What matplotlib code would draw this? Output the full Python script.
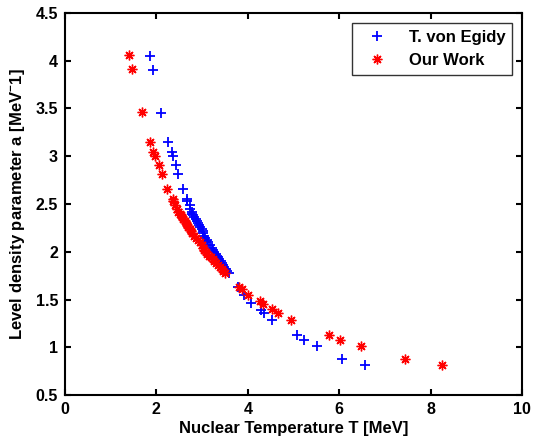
import numpy as np
import matplotlib.pyplot as plt

plt.rcParams['font.family'] = ['Liberation Sans', 'DejaVu Sans']
plt.rcParams['mathtext.fontset'] = 'custom'
plt.rcParams['mathtext.rm'] = 'Liberation Sans:bold'
plt.rcParams['mathtext.default'] = 'rm'

# =========================
# data
# =========================
a_egidy = [4.05, 3.90, 3.45, 3.15, 3.04, 3.00, 2.91, 2.81, 2.66, 2.55, 2.53, 2.49,
           2.45, 2.42, 2.40, 2.38, 2.36, 2.34, 2.32, 2.30, 2.28, 2.26, 2.24, 2.22,
           2.20, 2.17, 2.14, 2.12, 2.10, 2.07, 2.04, 2.02, 2.00, 1.98, 1.96, 1.94,
           1.92, 1.90, 1.88, 1.86, 1.84, 1.82, 1.80, 1.78,
           1.63, 1.55, 1.46, 1.39, 1.36, 1.29, 1.13, 1.08, 1.01, 0.88, 0.81]
T_egidy = [1.85, 1.92, 2.10, 2.26, 2.35, 2.37, 2.42, 2.48, 2.59, 2.68, 2.68, 2.74,
           2.74, 2.77, 2.79, 2.81, 2.83, 2.86, 2.88, 2.91, 2.93, 2.96, 2.99, 3.01,
           3.03, 3.05, 3.07, 3.11, 3.14, 3.17, 3.21, 3.24, 3.27, 3.30, 3.33, 3.35,
           3.38, 3.41, 3.44, 3.46, 3.49, 3.52, 3.55, 3.58,
           3.79, 3.92, 4.08, 4.29, 4.36, 4.54, 5.07, 5.23, 5.51, 6.07, 6.56]

a_ours = [4.06, 3.91, 3.46, 3.15, 3.04, 3.00, 2.91, 2.81, 2.66, 2.55, 2.53, 2.49,
          2.45, 2.42, 2.40, 2.38, 2.36, 2.34, 2.32, 2.30, 2.28, 2.26, 2.24, 2.22,
          2.20, 2.17, 2.14, 2.12, 2.10, 2.07, 2.04, 2.02, 2.00, 1.98, 1.96, 1.94,
          1.92, 1.90, 1.88, 1.86, 1.84, 1.82, 1.80, 1.78,
          1.63, 1.61, 1.55, 1.48, 1.45, 1.40, 1.36, 1.29, 1.13, 1.08, 1.01, 0.88, 0.81]
T_ours = [1.41, 1.46, 1.68, 1.85, 1.93, 1.97, 2.05, 2.12, 2.24, 2.36, 2.36, 2.41,
          2.45, 2.48, 2.51, 2.54, 2.56, 2.59, 2.62, 2.64, 2.67, 2.70, 2.73, 2.75,
          2.78, 2.82, 2.87, 2.91, 2.95, 2.99, 3.02, 3.05, 3.08, 3.11, 3.15, 3.19,
          3.23, 3.27, 3.31, 3.35, 3.39, 3.43, 3.46, 3.50,
          3.81, 3.87, 4.01, 4.27, 4.34, 4.54, 4.67, 4.95, 5.78, 6.02, 6.47, 7.45, 8.26]

x_ticks = [0, 2, 4, 6, 8, 10]
y_ticks = [0.5, 1, 1.5, 2, 2.5, 3, 3.5, 4, 4.5]


# =========================
# plot
# =========================
fig = plt.figure(figsize=(5.34, 4.47), dpi=100)
ax = fig.add_axes([0.1217, 0.1163, 0.8558, 0.8547])

ax.plot(T_egidy, a_egidy, linestyle='none', marker='+', color='#0000ff',
        markersize=7, markeredgewidth=1.3, label='T. von Egidy')
ax.plot(T_ours, a_ours, linestyle='none', marker=(8, 2, 0), color='#ff0000',
        markersize=7, markeredgewidth=1.0, label='Our Work')

ax.set_xlim(0, 10)
ax.set_ylim(0.5, 4.5)
ax.set_xticks(x_ticks)
ax.set_yticks(y_ticks)
ax.set_xticklabels([str(t) for t in x_ticks], fontweight='bold')
ax.set_yticklabels(['%g' % t for t in y_ticks], fontweight='bold')
ax.tick_params(direction='in', top=True, right=True, labelsize=11.5,
               width=1.5, length=4, pad=5)
for s in ax.spines.values():
    s.set_linewidth(1.5)

ax.set_xlabel('Nuclear Temperature T [MeV]', fontsize=12, fontweight='bold',
              labelpad=3)
ax.set_ylabel('Level density parameter a [MeV$^{-}$1]', fontsize=12,
              fontweight='bold', labelpad=6)

leg = ax.legend(loc='upper right', fontsize=12, frameon=True, fancybox=False,
                edgecolor='black', borderaxespad=0.6, handlelength=2.2,
                handletextpad=0.8, borderpad=0.4)
leg.get_frame().set_linewidth(1.0)
for t in leg.get_texts():
    t.set_fontweight('bold')

fig.savefig('out.png', dpi=100)
